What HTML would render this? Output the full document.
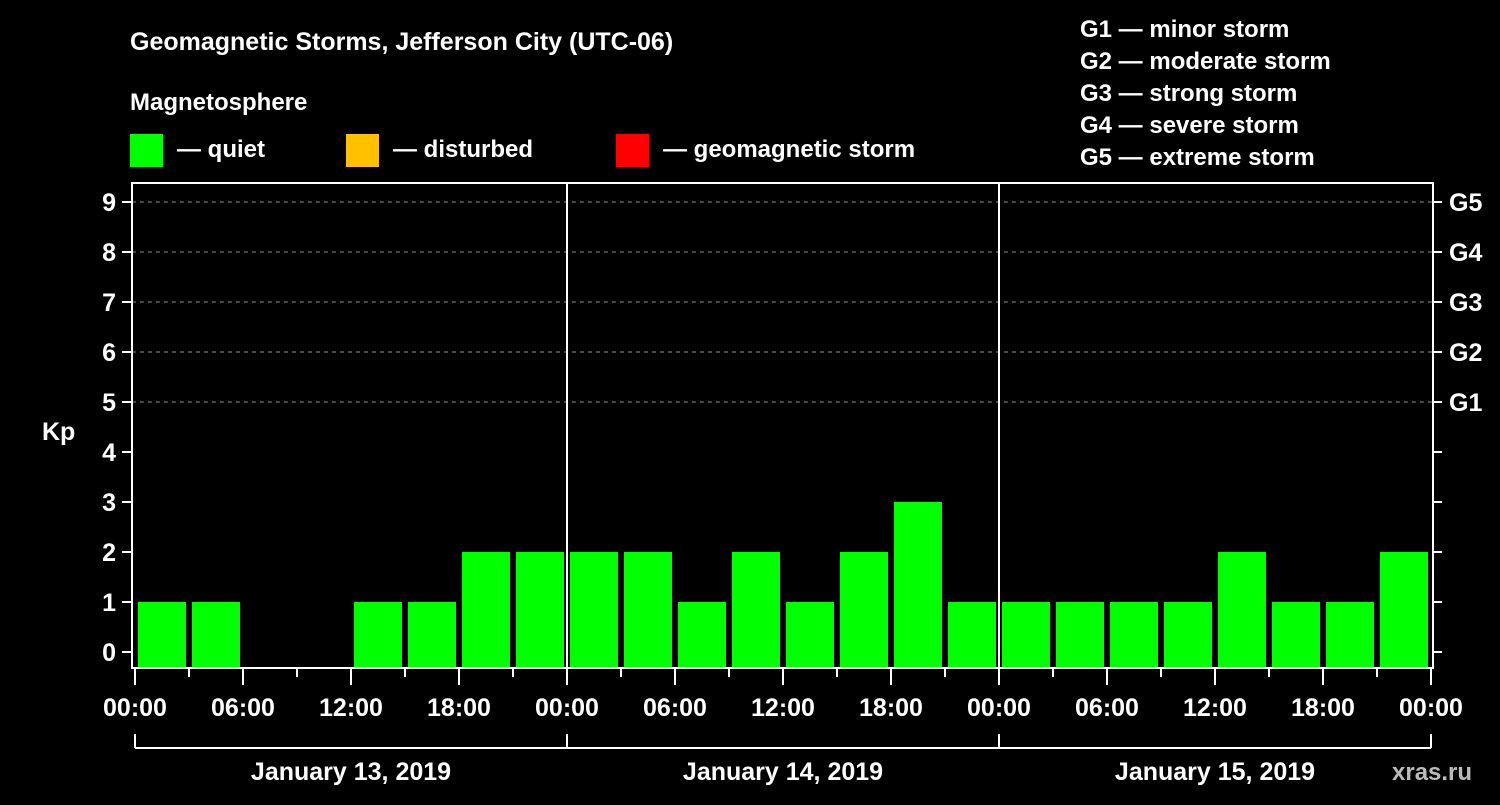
<!DOCTYPE html>
<html><head><meta charset="utf-8"><style>
body{margin:0;background:#000;width:1500px;height:800px;overflow:hidden}
text{font-family:"Liberation Sans",Arial,sans-serif;font-weight:bold;fill:#fff}
</style></head><body>
<svg id="chart" width="1500" height="800" xmlns="http://www.w3.org/2000/svg">
<rect width="1500" height="800" fill="#000"/>
<text x="130" y="50" font-size="25">Geomagnetic Storms, Jefferson City (UTC-06)</text>
<text x="130" y="110" font-size="24">Magnetosphere</text>
<g>
<rect x="130" y="134" width="33" height="33" fill="#00ff00"/>
<text x="177" y="157" font-size="24">— quiet</text>
<rect x="346" y="134" width="33" height="33" fill="#ffc000"/>
<text x="393" y="157" font-size="24">— disturbed</text>
<rect x="616" y="134" width="33" height="33" fill="#ff0000"/>
<text x="663" y="157" font-size="24">— geomagnetic storm</text>
</g>
<g font-size="24">
<text x="1080" y="37">G1 — minor storm</text>
<text x="1080" y="69">G2 — moderate storm</text>
<text x="1080" y="101">G3 — strong storm</text>
<text x="1080" y="133">G4 — severe storm</text>
<text x="1080" y="165">G5 — extreme storm</text>
</g>
<text x="42" y="440" font-size="25">Kp</text>
<text x="1392" y="780" font-size="24" style="fill:#bbb">xras.ru</text>
<g id="grid"></g><g id="bars"></g><g id="axes"></g>
</svg>
<script>
const values = [1,1,0,0,1,1,2,2, 2,2,1,2,1,2,3,1, 1,1,1,1,2,1,1,2];
const days = ["January 13, 2019","January 14, 2019","January 15, 2019"];
const hourLabels = ["00:00","06:00","12:00","18:00"];
const yTicks = [0,1,2,3,4,5,6,7,8,9];
const gLabels = ["G1","G2","G3","G4","G5"];
const NS="http://www.w3.org/2000/svg";
const X0=135, DAYW=432, SLOT=54, Y0=652, UNIT=50, LEFT=132, RIGHT=1433, TOP=183, BOT=668;
const xs=i=>X0+i*SLOT; const ys=v=>Y0-v*UNIT;
function mk(t,a,p,txt){const e=document.createElementNS(NS,t);for(const k in a)e.setAttribute(k,a[k]);if(txt!==undefined)e.textContent=txt;p.appendChild(e);return e;}
const grid=document.getElementById('grid'),bars=document.getElementById('bars'),axes=document.getElementById('axes');
[5,6,7,8,9].forEach(v=>{const l=mk('line',{x1:LEFT,x2:RIGHT,y1:ys(v),y2:ys(v),stroke:'#888','stroke-dasharray':'4,4','stroke-width':1},grid);

});
values.forEach((v,i)=>{if(v<=0)return;const c=v>=5?'#ff0000':(v>=4?'#ffc000':'#00ff00');
const r=mk('rect',{x:xs(i)+3,y:ys(v),width:SLOT-6,height:BOT-1-ys(v),fill:c},bars);

});
mk('rect',{x:LEFT,y:TOP,width:RIGHT-LEFT,height:BOT-TOP,fill:'none',stroke:'#fff','stroke-width':2},axes);
for(let d=1;d<days.length;d++)mk('line',{x1:X0+d*DAYW,x2:X0+d*DAYW,y1:TOP,y2:BOT,stroke:'#fff','stroke-width':2},axes);
yTicks.forEach(v=>{mk('line',{x1:122,x2:LEFT,y1:ys(v),y2:ys(v),stroke:'#fff','stroke-width':2},axes);
mk('line',{x1:RIGHT,x2:1442,y1:ys(v),y2:ys(v),stroke:'#fff','stroke-width':2},axes);
const t=mk('text',{x:116,y:ys(v)+9,'font-size':25,'text-anchor':'end'},axes,String(v));

});
gLabels.forEach((g,i)=>{const t=mk('text',{x:1449,y:ys(5+i)+9,'font-size':25},axes,g);

});
for(let i=0;i<=values.length;i++){const major=i%2===0;
mk('line',{x1:xs(i),x2:xs(i),y1:BOT,y2:major?685:677,stroke:'#fff','stroke-width':2},axes);
if(major){const t=mk('text',{x:xs(i),y:716,'font-size':25,'text-anchor':'middle'},axes,hourLabels[(i/2)%4]);

}}
mk('line',{x1:X0,x2:X0+days.length*DAYW,y1:748,y2:748,stroke:'#fff','stroke-width':2},axes);
for(let d=0;d<=days.length;d++)mk('line',{x1:X0+d*DAYW,x2:X0+d*DAYW,y1:734,y2:748,stroke:'#fff','stroke-width':2},axes);
days.forEach((s,d)=>{const t=mk('text',{x:X0+d*DAYW+DAYW/2,y:780,'font-size':25,'text-anchor':'middle'},axes,s);

});
</script>
</body></html>
